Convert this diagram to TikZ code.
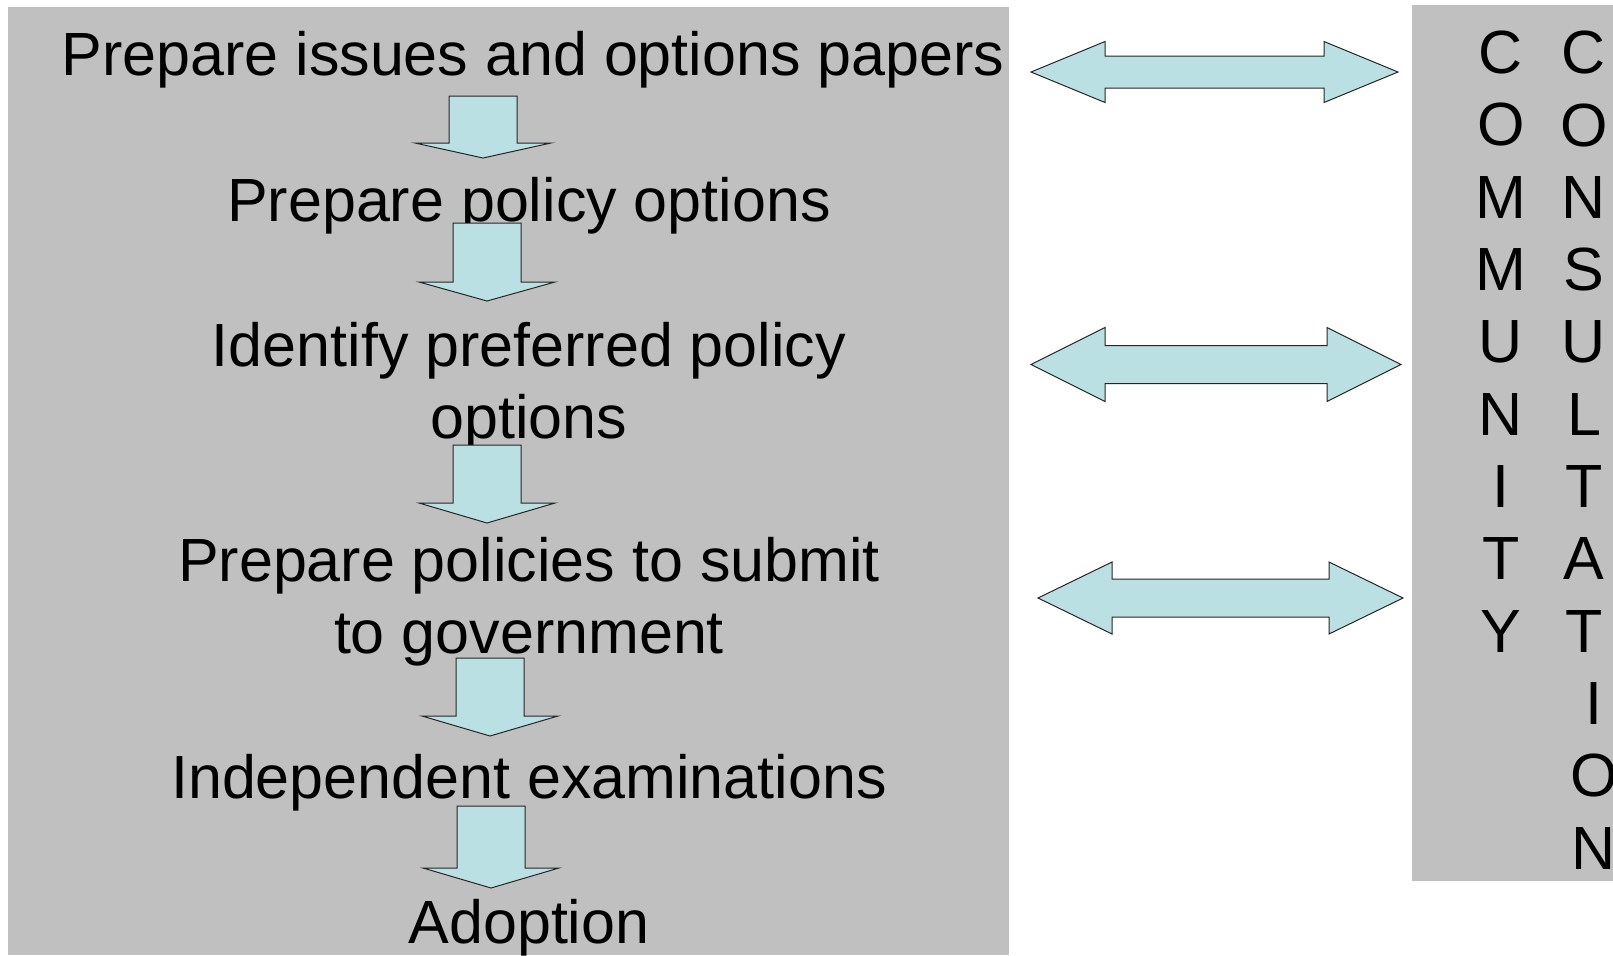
\documentclass[tikz,border=0pt]{standalone}
\usepackage{fontspec}
\setmainfont{Liberation Sans}
\usepackage{tikz}
\usetikzlibrary{positioning}

\definecolor{panelgray}{RGB}{192,192,192}
\definecolor{arrowblue}{RGB}{187,224,227}

% block arrow pointing down: centre x, top, shoulder, tip
\newcommand{\blockdown}[4]{%
	\draw[Block] (#1-34,#2) -- (#1+34,#2) -- (#1+34,#3) -- (#1+68,#3) -- (#1,#4)
		-- (#1-68,#3) -- (#1-34,#3) -- cycle;}
% block arrow with two heads: left tip x, right tip x, y, head half, shaft half
\newcommand{\blockboth}[5]{%
	\draw[Block] (#1,#3) -- (#1+74,#3-#4) -- (#1+74,#3-#5) -- (#2-74,#3-#5) -- (#2-74,#3-#4)
		-- (#2,#3) -- (#2-74,#3+#4) -- (#2-74,#3+#5) -- (#1+74,#3+#5) -- (#1+74,#3+#4) -- cycle;}

\begin{document}
\begin{tikzpicture}[x=0.5pt, y=-0.5pt]
			% base of a node with several lines is the base of its last line
			\tikzstyle{Step}	= [anchor=base, align=center, inner sep=0pt, font=\fontsize{30.5}{35.75}\selectfont]
			\tikzstyle{Letters}	= [anchor=base, align=center, inner sep=0pt, font=\fontsize{30.5}{36.15}\selectfont]
			\tikzstyle{Block}	= [fill=arrowblue, draw=black!85, line width=0.5pt, line join=miter]
			
			\useasboundingbox (0,0) rectangle (1613,955);
			\fill[panelgray] (8,7) rectangle (1009,955);
			\fill[panelgray] (1412,5) rectangle (1613,881);
			
			\node (issues) at (533,75) [Step] {Prepare issues and options papers};
			\node (policy) at (529,221) [Step] {Prepare policy options};
			\node (preferred) at (529,438) [Step] {Identify preferred policy\\options};
			\node (submit) at (529,653) [Step] {Prepare policies to submit\\to government};
			\node (exam) at (529,798) [Step] {Independent examinations};
			\node (adopt) at (529,943) [Step] {Adoption};
			
			\node (community) at (1501,652) [Letters] {C\\O\\M\\M\\U\\N\\I\\T\\Y};
			\node (consult) at (1584,869) [Letters] {C\\O\\N\\S\\U\\L\\T\\A\\T\\
				\hspace*{10pt}I\\\hspace*{10pt}O\\\hspace*{10pt}N};
			
			\blockdown{483}{96}{143}{158}
			\blockdown{487}{223}{282}{301}
			\blockdown{487}{445}{503}{523}
			\blockdown{490}{658}{716}{736}
			\blockdown{491}{806}{868}{888}
			
			\blockboth{1031}{1398}{72}{30.5}{16}
			\blockboth{1031}{1401}{364.5}{37}{19}
			\blockboth{1038}{1403}{598}{36}{19}
		\end{tikzpicture}
\end{document}
